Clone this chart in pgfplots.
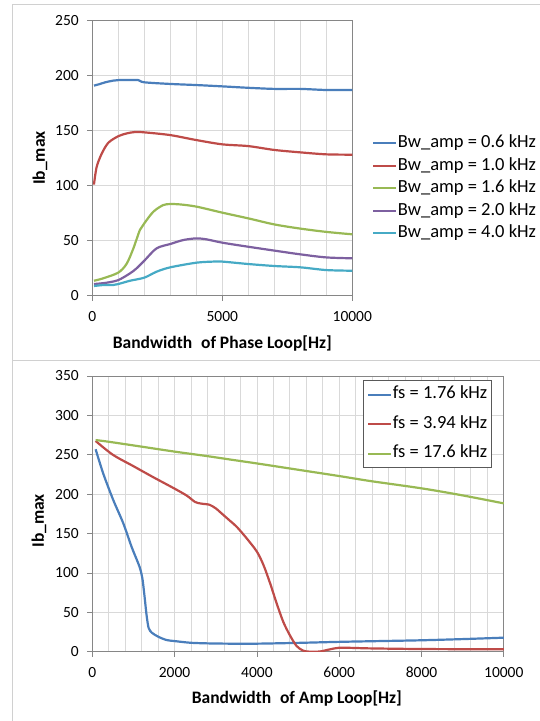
\documentclass[border=0pt]{standalone}
\usepackage{pgfplots}
\pgfplotsset{compat=1.18}
\usepackage{fontspec}
\setmainfont{Carlito}

\definecolor{xlblue}{HTML}{4A7EBB}
\definecolor{xlred}{HTML}{BE4B48}
\definecolor{xlgreen}{HTML}{98B954}
\definecolor{xlpurple}{HTML}{7D60A0}
\definecolor{xlcyan}{HTML}{46AAC5}
\definecolor{gridgray}{HTML}{D9D9D9}
\definecolor{axisgray}{HTML}{868686}
\definecolor{framegray}{HTML}{D0D0D0}

\pgfplotsset{
  excel/.style={
    scale only axis,
    axis line style={draw=axisgray, line width=0.8pt},
    grid=both,
    major grid style={draw=gridgray, line width=0.8pt},
    minor grid style={draw=gridgray, line width=0.8pt},
    tick align=outside,
    xtick pos=bottom, ytick pos=left,
    major tick length=5pt,
    minor tick length=0pt,
    tick style={draw=axisgray, line width=0.8pt},
    ticklabel style={font=\fontsize{15.5}{18}\selectfont},
    yticklabel style={xshift=-5pt},
    xticklabel style={yshift=-7pt},
    scaled x ticks=false,
    /pgf/number format/assume math mode=true,
    /pgf/number format/1000 sep={},
    label style={font=\fontsize{17.5}{20}\selectfont\bfseries},
    legend style={font=\fontsize{18.5}{21}\selectfont},
    legend cell align=left,
    every axis plot/.append style={line width=2.2pt, smooth, no markers, line join=round},
    legend image code/.code={\draw[#1, sharp plot, line width=2pt] (0pt,0pt) -- (23pt,0pt);},
  }
}

\begin{document}
\begin{tikzpicture}
\useasboundingbox (0pt,0pt) rectangle (540pt,721pt);
\draw[framegray, line width=1pt] (12pt,0pt) -- (12pt,716pt) -- (540pt,716pt);
\draw[framegray, line width=1.5pt] (12pt,360.5pt) -- (540pt,360.5pt);

% top chart
\begin{axis}[excel,
  at={(92.3pt,425.3pt)}, anchor=south west,
  width=260pt, height=275pt,
  xmin=0, xmax=10000, ymin=0, ymax=250,
  xtick={0,5000,10000}, minor xtick={1000,2000,...,9000},
  ytick={0,50,...,250},
  xlabel={Bandwidth\hspace{0.5em}of Phase Loop[Hz]},
  ylabel={Ib\_max},
  xlabel style={at={(axis description cs:0.5,-0.172)}, anchor=center},
  ylabel style={at={(axis description cs:-0.201,0.5)}, anchor=center},
  legend style={at={(axis description cs:1.076,0.39)}, anchor=west,
    draw=none, fill=none, inner sep=0pt, row sep=6pt, column sep=0pt,
    nodes={inner sep=0.5pt, text height=12pt, text depth=3.5pt}},
]
\addplot[xlblue] coordinates {(64,191)(300,192.5)(500,194)(800,195.5)(1000,196)(1500,196)(1770,196)(2000,194)(3000,192.5)(4000,191.5)(5000,190.3)(6000,189)(7000,188)(8000,188)(9000,187)(10000,187)};
\addplot[xlred] coordinates {(64,101)(167,117)(360,129)(615,139)(1000,145)(1320,147.5)(1640,148.8)(2000,148.5)(3000,146)(4000,141.5)(5000,137.6)(6000,136)(7000,132.5)(8000,130.3)(9000,128.5)(10000,128.2)};
\addplot[xlgreen] coordinates {(64,13.6)(420,15.8)(1000,21)(1320,29)(1580,43)(1830,59.7)(2000,65.8)(2350,76.4)(2730,82.4)(3000,83.3)(3370,83)(4000,81)(5000,75.5)(6000,70.3)(7000,64.8)(8000,61)(9000,58)(10000,55.8)};
\addplot[xlpurple] coordinates {(64,10.6)(550,11.8)(1000,14.2)(1450,20.3)(1700,24.8)(2000,31.8)(2470,43)(3000,47)(3500,50.6)(4000,52.1)(4400,51.2)(5000,48.2)(6000,44.5)(7000,41)(8000,37.6)(9000,34.8)(10000,34)};
\addplot[xlcyan] coordinates {(64,8.8)(420,9.7)(800,9.7)(1000,10.6)(1450,13.6)(2000,16.4)(2470,21.8)(3000,25.8)(4000,30)(4650,31)(5000,31)(6000,28.8)(7000,27)(8000,25.8)(9000,23.3)(10000,22.7)};
\legend{Bw\_amp = 0.6 kHz, Bw\_amp = 1.0 kHz, Bw\_amp = 1.6 kHz, Bw\_amp = 2.0 kHz, Bw\_amp = 4.0 kHz}
\end{axis}

% bottom chart
\begin{axis}[excel,
  at={(92.3pt,69.3pt)}, anchor=south west,
  width=411.5pt, height=275.7pt,
  xmin=0, xmax=10000, ymin=0, ymax=350,
  xtick={0,2000,...,10000}, minor xtick={400,800,...,9600},
  ytick={0,50,...,350},
  xlabel={Bandwidth\hspace{0.5em}of Amp Loop[Hz]},
  ylabel={Ib\_max},
  xlabel style={at={(axis description cs:0.497,-0.168)}, anchor=center},
  ylabel style={at={(axis description cs:-0.1295,0.475)}, anchor=center},
  legend style={at={(axis description cs:0.9705,0.9855)}, anchor=north east,
    draw=black!65, line width=0.8pt, fill=white, inner xsep=3.5pt, inner ysep=6pt,
    row sep=13pt, column sep=0pt,
    nodes={inner sep=0.5pt, text height=12pt, text depth=3.5pt}},
]
\addplot[xlblue] coordinates {(81,257)(267,226)(510,192.5)(753,163)(956,133)(1118,112)(1170,104)(1220,92)(1270,70)(1320,46)(1370,30)(1450,24)(1604,19)(1806,14.8)(2000,13.5)(2373,11.4)(2778,10.6)(3345,10.2)(4000,10.2)(5000,11.2)(6000,12.5)(7000,13.5)(8000,14.5)(9000,16)(10000,17.8)};
\addplot[xlred] coordinates {(81,267.5)(500,250)(1000,235.5)(1500,221)(2000,207)(2300,198)(2500,190)(2650,188)(2850,186.5)(3000,182)(3100,177.5)(3350,166)(3507,158.7)(3750,144)(4000,127)(4160,110)(4320,87)(4480,61.4)(4640,38)(4800,21)(4965,7.2)(5127,1.3)(5290,0)(5532,0.3)(5775,3)(6000,5)(6340,4.8)(6750,4.2)(8000,3.4)(10000,3)};
\addplot[xlgreen] coordinates {(81,268.7)(390,266.6)(1200,260.3)(2000,254)(2780,248.4)(3345,244)(4000,239)(5000,231)(6000,223)(6750,216.7)(8000,207.4)(8940,199)(10000,188.3)};
\legend{fs = 1.76 kHz, fs = 3.94 kHz, fs = 17.6 kHz}
\end{axis}
\end{tikzpicture}
\end{document}
